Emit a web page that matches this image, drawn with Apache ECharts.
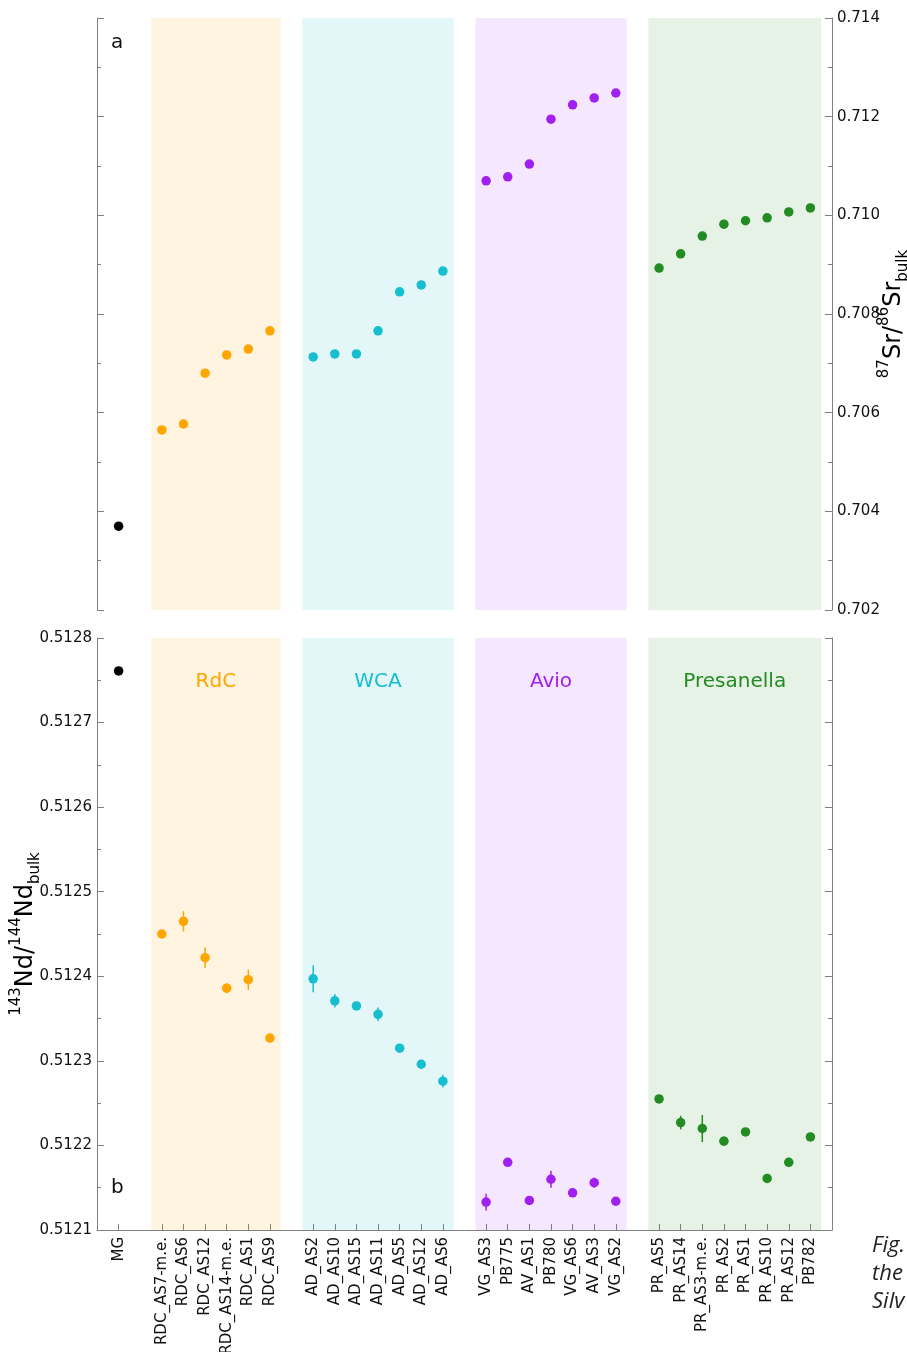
<!DOCTYPE html>
<html>
<head>
<meta charset="utf-8">
<script src="https://cdn.jsdelivr.net/npm/echarts@6/dist/echarts.min.js"></script>
<style>
  html, body { margin: 0; padding: 0; background: #ffffff; }
  #chart { width: 907px; height: 1352px; }
</style>
</head>
<body>
<div id="chart"></div>
<script>
// ---- Sample groups (in plotting order) ----
const groupNames = ['MG', 'RdC', 'WCA', 'Avio', 'Presanella'];
const mgSamples = ['MG'];
const rdcSamples = ['RDC_AS7-m.e.', 'RDC_AS6', 'RDC_AS12', 'RDC_AS14-m.e.', 'RDC_AS1', 'RDC_AS9'];
const wcaSamples = ['AD_AS2', 'AD_AS10', 'AD_AS15', 'AD_AS11', 'AD_AS5', 'AD_AS12', 'AD_AS6'];
const avioSamples = ['VG_AS3', 'PB775', 'AV_AS1', 'PB780', 'VG_AS6', 'AV_AS3', 'VG_AS2'];
const presSamples = ['PR_AS5', 'PR_AS14', 'PR_AS3-m.e.', 'PR_AS2', 'PR_AS1', 'PR_AS10', 'PR_AS12', 'PB782'];

// ---- 87Sr/86Sr (bulk) ----
const srMG = [0.70370];
const srRdC = [0.70565, 0.70577, 0.70680, 0.70717, 0.70729, 0.70766];
const srWCA = [0.70713, 0.70719, 0.70719, 0.70766, 0.70845, 0.70859, 0.70887];
const srAvio = [0.71070, 0.71078, 0.71104, 0.71195, 0.71224, 0.71238, 0.71248];
const srPres = [0.70893, 0.70922, 0.70958, 0.70982, 0.70989, 0.70995, 0.71007, 0.71015];

// ---- 143Nd/144Nd (bulk) and 2-sigma errors ----
const ndMG = [0.512761];
const ndMGErr = [0];
const ndRdC = [0.512450, 0.512465, 0.512422, 0.512386, 0.512396, 0.512327];
const ndRdCErr = [0, 0.000012, 0.000012, 0.000006, 0.000012, 0];
const ndWCA = [0.512397, 0.512371, 0.512365, 0.512355, 0.512315, 0.512296, 0.512276];
const ndWCAErr = [0.000016, 0.000008, 0, 0.000008, 0, 0, 0.0000075];
const ndAvio = [0.512133, 0.512180, 0.512135, 0.512160, 0.512144, 0.512156, 0.512134];
const ndAvioErr = [0.00001, 0, 0, 0.00001, 0, 0.000006, 0];
const ndPres = [0.512255, 0.512227, 0.512220, 0.512205, 0.512216, 0.512161, 0.512180, 0.512210];
const ndPresErr = [0, 0.000008, 0.000016, 0.0000055, 0, 0.000005, 0, 0];

// ---- Axis ranges ----
const srRange = [0.702, 0.714, 0.002];
const ndRange = [0.5121, 0.5128, 0.0001];

// ---- Colours ----
const groupColors = ['#000000', '#ffa500', '#17becf', '#a020f0', '#228b22'];
const bandColors = [null, 'rgba(255,165,0,0.12)', 'rgba(23,190,207,0.12)', 'rgba(160,32,240,0.11)', 'rgba(34,139,34,0.11)'];

const groups = [
  { samples: mgSamples, sr: srMG, nd: ndMG, err: ndMGErr },
  { samples: rdcSamples, sr: srRdC, nd: ndRdC, err: ndRdCErr },
  { samples: wcaSamples, sr: srWCA, nd: ndWCA, err: ndWCAErr },
  { samples: avioSamples, sr: srAvio, nd: ndAvio, err: ndAvioErr },
  { samples: presSamples, sr: srPres, nd: ndPres, err: ndPresErr }
];

// Category slots: a blank spacer before each group and one at the end.
const slots = [];
let spacer = 0;
const blank = () => ' '.repeat(++spacer);
groups.forEach(g => {
  slots.push(blank());
  g.start = slots.length;
  g.samples.forEach(s => slots.push(s));
  g.end = slots.length - 1;
});
slots.push(blank());
const xMax = slots.length - 1;
const isSample = v => String(v).trim() !== '';

const AX = '#808080';
const FONT = 'DejaVu Sans';

function yAxisBase(gridIndex, range, position, showLabels, digits) {
  return {
    type: 'value', gridIndex, position,
    min: range[0], max: range[1], interval: range[2],
    axisLine: { show: true, onZero: false, lineStyle: { color: AX, width: 1 } },
    axisTick: { show: true, inside: true, length: 7, lineStyle: { color: AX } },
    minorTick: { show: true, splitNumber: 2, length: 4, lineStyle: { color: AX } },
    splitLine: { show: false },
    axisLabel: {
      show: showLabels, margin: 5, color: '#111', fontSize: 15, fontFamily: FONT,
      formatter: v => v.toFixed(digits)
    }
  };
}

const series = [];
groups.forEach((g, gi) => {
  const color = groupColors[gi];
  const xs = g.samples.map((_, i) => g.start + i);
  const band = bandColors[gi] ? {
    silent: true,
    itemStyle: { color: bandColors[gi] },
    data: [[{ xAxis: g.start - 0.5, name: groupNames[gi] }, { xAxis: g.end + 0.5 }]]
  } : undefined;

  // upper panel: Sr isotopes
  series.push({
    type: 'scatter', xAxisIndex: 0, yAxisIndex: 0, symbolSize: 9.5, z: 3,
    itemStyle: { color, opacity: 1 },
    data: xs.map((x, i) => [x, g.sr[i]]),
    markArea: band ? Object.assign({}, band, { label: { show: false } }) : undefined
  });

  // lower panel: Nd error bars
  series.push({
    type: 'custom', xAxisIndex: 1, yAxisIndex: 2, z: 2,
    data: xs.map((x, i) => [x, g.nd[i], g.err[i]]).filter(d => d[2] > 0),
    renderItem: (params, api) => {
      const x = api.value(0), v = api.value(1), e = api.value(2);
      const p1 = api.coord([x, v - e]);
      const p2 = api.coord([x, v + e]);
      return {
        type: 'line',
        shape: { x1: p1[0], y1: p1[1], x2: p2[0], y2: p2[1] },
        style: { stroke: color, lineWidth: 1.5 }
      };
    }
  });

  // lower panel: Nd isotopes
  series.push({
    type: 'scatter', xAxisIndex: 1, yAxisIndex: 2, symbolSize: 9.5, z: 3,
    itemStyle: { color, opacity: 1 },
    data: xs.map((x, i) => [x, g.nd[i]]),
    markArea: band ? Object.assign({}, band, {
      label: {
        show: true, position: 'insideTop', distance: 34,
        color, fontSize: 20, fontFamily: FONT
      }
    }) : undefined
  });
});

const chart = echarts.init(document.getElementById('chart'), null, { renderer: 'canvas' });

const titleRich = {
  sup: { fontSize: 15, fontFamily: FONT, color: '#111', verticalAlign: 'top', lineHeight: 17 },
  m: { fontSize: 24, fontFamily: FONT, color: '#111', lineHeight: 34 },
  sub: { fontSize: 15, fontFamily: FONT, color: '#111', verticalAlign: 'bottom', lineHeight: 17 }
};

chart.setOption({
  animation: false,
  backgroundColor: '#ffffff',
  grid: [
    { left: 97, top: 18, width: 735, height: 592, containLabel: false, outerBoundsMode: 'none' },
    { left: 97, top: 638, width: 735, height: 592, containLabel: false, outerBoundsMode: 'none' }
  ],
  xAxis: [
    { type: 'value', gridIndex: 0, min: 0, max: xMax, show: false, position: 'top' },
    { type: 'value', gridIndex: 1, min: 0, max: xMax, show: false, position: 'top' },
    {
      type: 'category', gridIndex: 1, position: 'bottom', boundaryGap: false, data: slots,
      axisLine: { show: true, onZero: false, lineStyle: { color: AX, width: 1 } },
      axisTick: { show: true, inside: true, length: 6, interval: (i, v) => isSample(v), lineStyle: { color: AX } },
      axisLabel: {
        interval: (i, v) => isSample(v), rotate: 90, margin: 7,
        color: '#111', fontSize: 15, fontFamily: FONT
      },
      splitLine: { show: false }
    }
  ],
  yAxis: [
    yAxisBase(0, srRange, 'right', true, 3),
    yAxisBase(0, srRange, 'left', false, 3),
    yAxisBase(1, ndRange, 'left', true, 4),
    yAxisBase(1, ndRange, 'right', false, 4)
  ],
  series,
  graphic: [
    { type: 'text', left: 111, top: 33, style: { text: 'a', fontSize: 20, fontFamily: FONT, fill: '#111' } },
    { type: 'text', left: 111, top: 1178, style: { text: 'b', fontSize: 20, fontFamily: FONT, fill: '#111' } },
    {
      type: 'text', x: 894, y: 314, rotation: Math.PI / 2,
      style: {
        text: '{sup|87}{m|Sr/}{sup|86}{m|Sr}{sub|bulk}', rich: titleRich,
        align: 'center', verticalAlign: 'middle'
      }
    },
    {
      type: 'text', x: 26, y: 934, rotation: Math.PI / 2,
      style: {
        text: '{sup|143}{m|Nd/}{sup|144}{m|Nd}{sub|bulk}', rich: titleRich,
        align: 'center', verticalAlign: 'middle'
      }
    },
    { type: 'text', left: 872, top: 1235, style: { text: 'Fig.', fontSize: 22, fontStyle: 'italic', fontFamily: 'Open Sans', fill: '#222' } },
    { type: 'text', left: 872, top: 1263, style: { text: 'the', fontSize: 22, fontStyle: 'italic', fontFamily: 'Open Sans', fill: '#222' } },
    { type: 'text', left: 872, top: 1291, style: { text: 'Silv', fontSize: 22, fontStyle: 'italic', fontFamily: 'Open Sans', fill: '#222' } }
  ]
});
</script>
</body>
</html>
